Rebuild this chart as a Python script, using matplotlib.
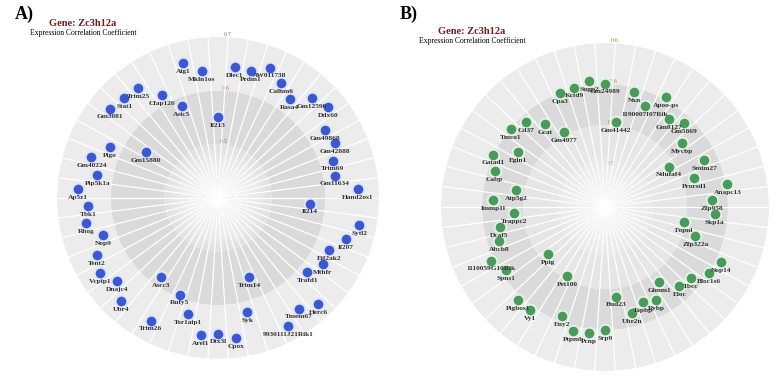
import numpy as np
import matplotlib
matplotlib.use('Agg')
import matplotlib.pyplot as plt

plt.rcParams['font.family'] = ['Liberation Serif', 'DejaVu Serif']

# ---- panel A: genes clockwise from the top, correlation values ----
genes_a = ['Il213', 'Dlec1', 'Prdm1', 'AW011738', 'Calhm6', 'Rasa4', 'Gm12590', 'Ddx60',
           'Gm49868', 'Gm42888', 'Trim69', 'Gm11634', 'Hand2os1', 'Il214', 'Sytl2', 'Il207',
           'Eif2ak2', 'Mthfr', 'Trafd1', 'Herc6', 'Tmem67', '9930111J21Rik1', 'Trim14', 'Syk',
           'Cpox', 'Dtx3l', 'Arel1', 'Tor1aip1', 'Rufy5', 'Trim26', 'Ascc3', 'Ubr4', 'Dnajc4',
           'Vcpip1', 'Tent2', 'Nop9', 'Rhog', 'Tbk1', 'Ap5z1', 'Pip5k1a', 'Gm40224', 'Pigo',
           'Gm15880', 'Gm3081', 'Stat1', 'Trim25', 'Cfap126', 'Asic5', 'Aig1', 'Mkln1os']
corr_a = [0.551, 0.646, 0.644, 0.661, 0.644, 0.627, 0.655, 0.666, 0.636, 0.640,
          0.625, 0.621, 0.661, 0.571, 0.668, 0.651, 0.628, 0.631, 0.616, 0.672,
          0.655, 0.672, 0.558, 0.620, 0.664, 0.653, 0.657, 0.623, 0.594, 0.661,
          0.582, 0.664, 0.644, 0.661, 0.650, 0.625, 0.650, 0.642, 0.661, 0.629,
          0.648, 0.623, 0.560, 0.661, 0.655, 0.653, 0.618, 0.584, 0.659, 0.638]

# ---- panel B ----
genes_b = ['Gm24989', 'Gm41442', 'Nxn', '1190007I07Rik', 'Apoo-ps', 'Gm8127', 'Gm5869', 'Mycbp',
           'Ndufaf4', 'Smim27', 'Prorsd1', 'Anapc13', 'Zfp958', 'Skp1a', 'Fopnl', 'Zfp322a',
           'Nop14', 'Bloc1s6', 'Tbcc', 'Eloc', 'Gimm1', 'Rybp', 'Tapbp', 'Ube2n', 'Bud23',
           'Srp9', 'Pcnp', 'Ptpmb', 'Eny2', 'Pet100', 'Vy1', 'Pigbos1', 'Ppig', 'Spns1',
           '1110059G10Rik', 'Abcb8', 'Dcaf5', 'Trappc2', 'Immp1l', 'Atp5g2', 'Cabp', 'Gatad1',
           'Egln1', 'Tmco1', 'Cd37', 'Gcat', 'Gm4977', 'Cpa3', 'Kctd9', 'Sugp2']
corr_b = [0.567, 0.536, 0.563, 0.555, 0.569, 0.555, 0.560, 0.548, 0.528, 0.556,
          0.543, 0.568, 0.554, 0.556, 0.532, 0.544, 0.571, 0.567, 0.557, 0.555,
          0.542, 0.553, 0.550, 0.556, 0.540, 0.567, 0.570, 0.571, 0.562, 0.531,
          0.570, 0.570, 0.527, 0.562, 0.569, 0.557, 0.554, 0.541, 0.558, 0.540,
          0.561, 0.567, 0.550, 0.566, 0.561, 0.550, 0.536, 0.566, 0.567, 0.570]


def draw_panel(ax, genes, vals, rmin, rmax, nticks, dot_color, halo_color, band_colors):
    n = len(genes)
    theta = np.arange(n) * 2 * np.pi / n
    ax.set_theta_zero_location('N')
    ax.set_theta_direction(-1)
    ax.set_ylim(rmin, rmax)
    ax.set_facecolor('none')
    ax.spines['polar'].set_visible(False)
    ax.grid(False)
    ax.set_xticks([])

    # shaded rings
    edges = np.linspace(rmin, rmax, nticks + 1)
    for i in range(nticks):
        ax.bar(0, edges[i + 1] - edges[i], width=2 * np.pi, bottom=edges[i],
               color=band_colors[i], lw=0, zorder=0)

    # spokes between categories
    for th in theta + np.pi / n:
        ax.plot([th, th], [rmin, rmax], color='white', lw=0.9, zorder=2)

    # white glow at the centre (over the spokes)
    glow = (rmax - rmin) * 0.3
    for k in range(20):
        ax.bar(0, glow * (k + 1) / 20, width=2 * np.pi, bottom=rmin,
               color='white', alpha=0.09, lw=0, zorder=3)

    ax.set_yticks(edges[1:])
    ax.set_yticklabels(['%.1f' % v for v in edges[1:]], fontsize=4.5, color='#b07a30')
    ax.set_rlabel_position(2)

    ax.scatter(theta, vals, s=95, color=halo_color, lw=0, zorder=4)
    ax.scatter(theta, vals, s=48, color=dot_color, lw=0, zorder=5)
    for th, v, g in zip(theta, vals, genes):
        ax.annotate(g, (th, v), xytext=(0, -4.2), textcoords='offset points',
                    ha='center', va='top', fontsize=5.3, fontweight='bold',
                    color='#333333', zorder=6)


fig = plt.figure(figsize=(7.76, 3.79), dpi=100, facecolor='white')

ax_a = fig.add_axes([0.0735, 0.053, 0.415, 0.850], projection='polar')
draw_panel(ax_a, genes_a, corr_a, 0.4, 0.7, 3, '#3b58d2', '#dfe6fa',
           ['#e2e2e2', '#dadada', '#ececec'])

ax_b = fig.add_axes([0.5683, 0.021, 0.4227, 0.8654], projection='polar')
draw_panel(ax_b, genes_b, corr_b, 0.4667, 0.6, 4, '#4a9a5c', '#e3f1e6',
           ['#e4e4e4', '#e6e6e6', '#dadada', '#ececec'])

# panel letters and headings
fig.text(15 / 776, 1 - 14 / 379, 'A)', fontsize=13, fontweight='bold', va='center')
fig.text(83 / 776, 1 - 23 / 379, 'Gene: Zc3h12a', fontsize=7.5, fontweight='bold',
         color='#7a1a1a', ha='center', va='center')
fig.text(83 / 776, 1 - 33 / 379, 'Expression Correlation Coefficient', fontsize=5.5,
         ha='center', va='center')

fig.text(400 / 776, 1 - 14 / 379, 'B)', fontsize=13, fontweight='bold', va='center')
fig.text(472 / 776, 1 - 31 / 379, 'Gene: Zc3h12a', fontsize=7.5, fontweight='bold',
         color='#7a1a1a', ha='center', va='center')
fig.text(472 / 776, 1 - 41 / 379, 'Expression Correlation Coefficient', fontsize=5.5,
         ha='center', va='center')

fig.savefig('out.png', dpi=100)
